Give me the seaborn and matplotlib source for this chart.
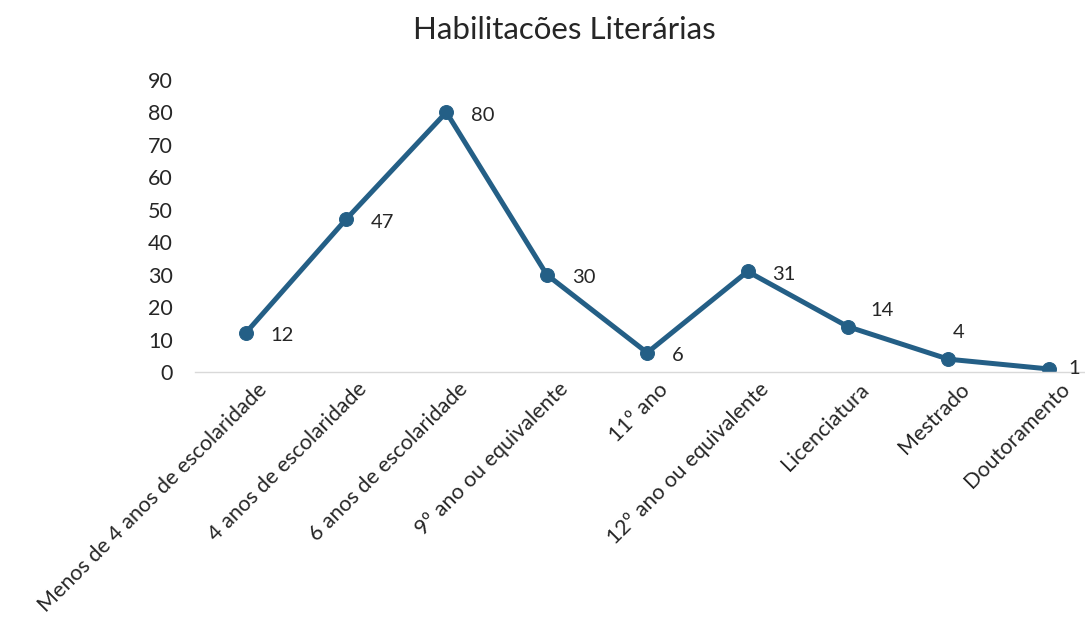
import matplotlib
matplotlib.use('Agg')
import matplotlib.pyplot as plt
import matplotlib.transforms as mtransforms
import seaborn as sns
import pandas as pd

categorias = ['Menos de 4 anos de escolaridade', '4 anos de escolaridade',
              '6 anos de escolaridade', '9º ano ou equivalente', '11º ano',
              '12º ano ou equivalente', 'Licenciatura', 'Mestrado', 'Doutoramento']
valores = [12, 47, 80, 30, 6, 31, 14, 4, 1]
yticks = [0, 10, 20, 30, 40, 50, 60, 70, 80, 90]

sns.set_style('white')
plt.rcParams['font.family'] = ['Lato', 'DejaVu Sans']

df = pd.DataFrame({'cat': categorias, 'n': valores})
cor = '#245f86'

fig = plt.figure(figsize=(10.85, 6.33), dpi=100)
ax = fig.add_axes([0.18, 0.412, 0.82, 0.462])
sns.lineplot(data=df, x='cat', y='n', ax=ax, color=cor, linewidth=3.6,
             marker='o', markersize=10, markeredgecolor=cor, sort=False)

ax.set_xlim(-0.5, 8.36)
ax.set_ylim(0, 90)
ax.set_yticks(yticks)
ax.set_xlabel('')
ax.set_ylabel('')
for s in ['top', 'right', 'left']:
    ax.spines[s].set_visible(False)
ax.spines['bottom'].set_color('#d9d9d9')
ax.spines['bottom'].set_linewidth(1)
ax.tick_params(axis='y', labelsize=15.5, length=0, pad=16, labelcolor='#262626')
ax.tick_params(axis='x', length=0, pad=5, labelcolor='#262626')
desloc = mtransforms.ScaledTranslation(8 / 72, 0, fig.dpi_scale_trans)
for lab in ax.get_xticklabels():
    lab.set_rotation(45)
    lab.set_ha('right')
    lab.set_rotation_mode('anchor')
    lab.set_fontsize(15.5)
    lab.set_transform(lab.get_transform() + desloc)

# rótulos de dados
offsets = {6: (16, 12), 7: (3, 19), 8: (14, 0)}
for i, v in enumerate(valores):
    dx, dy = offsets.get(i, (18, -2))
    ax.annotate(str(v), (i, v), xytext=(dx, dy), textcoords='offset points',
                ha='left', va='center', fontsize=14.5, color='#262626',
                annotation_clip=False)

fig.suptitle('Habilitacões Literárias', fontsize=22.5, x=0.52, y=0.975, color='#262626')
fig.savefig('out.png', dpi=100)
